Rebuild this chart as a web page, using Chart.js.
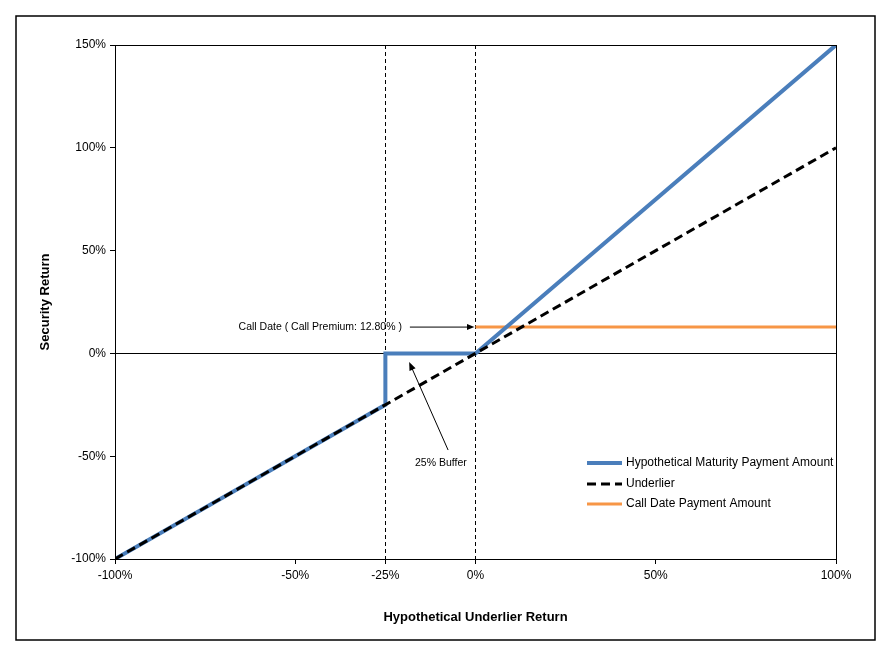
<!DOCTYPE html>
<html>
<head>
<meta charset="utf-8">
<title>Security Return vs Underlier</title>
<script src="https://cdn.jsdelivr.net/npm/chart.js@4/dist/chart.umd.min.js"></script>
<style>
    html, body { margin: 0; padding: 0; background: #fff; }
    #wrap { width: 894px; height: 657px; position: relative; }
</style>
</head>
<body>
<div id="wrap"><canvas id="payoffChart" width="894" height="657"></canvas></div>
<script>
// 数据
const xTicks = [-100, -50, -25, 0, 50, 100];
const maturityX = [-100, -25, -25, 0, 100];
const maturityY = [-100, -25, 0, 0, 150];
const underlierX = [-100, 100];
const underlierY = [-100, 100];
const callX = [0, 100];
const callY = [12.8, 12.8];
const refLines = [-25, 0];

const seriesLabels = ['Hypothetical Maturity Payment Amount', 'Underlier', 'Call Date Payment Amount'];
const callNote = 'Call Date ( Call Premium: 12.80% )';
const bufferNote = '25% Buffer';

const toPoints = (xs, ys) => xs.map((x, i) => ({ x: x, y: ys[i] }));

const baseFont = "Arial, 'Liberation Sans', sans-serif";

// 箭头
function drawArrow(ctx, x1, y1, x2, y2, head) {
    const a = Math.atan2(y2 - y1, x2 - x1);
    ctx.beginPath();
    ctx.moveTo(x1, y1);
    ctx.lineTo(x2 - Math.cos(a) * head * 0.8, y2 - Math.sin(a) * head * 0.8);
    ctx.stroke();
    ctx.beginPath();
    ctx.moveTo(x2, y2);
    ctx.lineTo(x2 - head * Math.cos(a - 0.38), y2 - head * Math.sin(a - 0.38));
    ctx.lineTo(x2 - head * Math.cos(a + 0.38), y2 - head * Math.sin(a + 0.38));
    ctx.closePath();
    ctx.fill();
}

// 边框、注释和图例
const decorPlugin = {
    id: 'decor',
    beforeDraw(chart) {
        const ctx = chart.ctx;
        ctx.save();
        ctx.fillStyle = '#fff';
        ctx.fillRect(0, 0, chart.width, chart.height);
        ctx.restore();
    },
    afterDraw(chart) {
        const ctx = chart.ctx;
        const area = chart.chartArea;
        const xs = chart.scales.x;
        const ys = chart.scales.y;
        ctx.save();

        // 外框
        ctx.strokeStyle = '#000';
        ctx.lineWidth = 1.5;
        ctx.strokeRect(16, 16, 859, 624);

        // 图表区边框
        ctx.lineWidth = 1;
        ctx.strokeRect(area.left + 0.5, area.top + 0.5, area.right - area.left, area.bottom - area.top);

        // 注释
        ctx.fillStyle = '#000';
        ctx.strokeStyle = '#000';
        ctx.lineWidth = 1;
        ctx.font = '10.5px ' + baseFont;
        ctx.textBaseline = 'middle';
        ctx.textAlign = 'right';
        ctx.fillText(callNote, xs.getPixelForValue(-20.4), ys.getPixelForValue(12.8));
        drawArrow(ctx, xs.getPixelForValue(-18.2), ys.getPixelForValue(12.8),
            xs.getPixelForValue(-0.3), ys.getPixelForValue(12.8), 8);

        ctx.textAlign = 'center';
        ctx.fillText(bufferNote, xs.getPixelForValue(-9.6), ys.getPixelForValue(-53.3));
        drawArrow(ctx, xs.getPixelForValue(-7.6), ys.getPixelForValue(-47),
            xs.getPixelForValue(-18.4), ys.getPixelForValue(-4.2), 9);

        // 图例
        const legendX = 587;
        const legendY = [463, 484, 504];
        ctx.font = '12px ' + baseFont;
        ctx.textAlign = 'left';
        seriesLabels.forEach((label, i) => {
            const ds = chart.data.datasets.find(d => d.label === label);
            ctx.save();
            ctx.strokeStyle = ds.borderColor;
            ctx.lineWidth = ds.borderWidth;
            ctx.setLineDash(ds.borderDash || []);
            ctx.beginPath();
            ctx.moveTo(legendX, legendY[i]);
            ctx.lineTo(legendX + 35, legendY[i]);
            ctx.stroke();
            ctx.restore();
            ctx.fillStyle = '#000';
            ctx.fillText(label, legendX + 39, legendY[i]);
        });
        ctx.restore();
    }
};

const ctx = document.getElementById('payoffChart').getContext('2d');
const payoffChart = new Chart(ctx, {
    type: 'line',
    data: {
        datasets: [
            {
                label: seriesLabels[1],
                data: toPoints(underlierX, underlierY),
                borderColor: '#000000',
                borderWidth: 3,
                borderDash: [9, 5],
                pointRadius: 0,
                order: 0
            },
            {
                label: seriesLabels[0],
                data: toPoints(maturityX, maturityY),
                borderColor: '#4A7EBB',
                borderWidth: 4,
                pointRadius: 0,
                order: 1
            },
            {
                label: seriesLabels[2],
                data: toPoints(callX, callY),
                borderColor: '#F79646',
                borderWidth: 3,
                pointRadius: 0,
                order: 2
            }
        ]
    },
    options: {
        responsive: false,
        animation: false,
        layout: {
            padding: { left: 16, top: 45, right: 58, bottom: 17 }
        },
        plugins: {
            legend: { display: false },
            tooltip: { enabled: false }
        },
        scales: {
            x: {
                type: 'linear',
                min: -100,
                max: 100,
                afterBuildTicks: scale => {
                    scale.ticks = xTicks.map(v => ({ value: v }));
                },
                afterFit: scale => { scale.height = 81; },
                grid: {
                    color: c => (c.tick && refLines.includes(c.tick.value) ? '#000' : 'transparent'),
                    tickColor: '#000',
                    tickLength: 5,
                    lineWidth: 1
                },
                border: { display: true, color: '#000', width: 1, dash: [4, 3] },
                ticks: {
                    color: '#000',
                    padding: 4,
                    maxRotation: 0,
                    font: { family: baseFont, size: 12 },
                    callback: v => v + '%'
                },
                title: {
                    display: true,
                    text: 'Hypothetical Underlier Return',
                    color: '#000',
                    font: { family: baseFont, size: 13, weight: 'bold' },
                    padding: { top: 0, bottom: 15 }
                }
            },
            y: {
                min: -100,
                max: 150,
                afterFit: scale => { scale.width = 99; },
                grid: {
                    color: c => (c.tick && c.tick.value === 0 ? '#000' : 'transparent'),
                    tickColor: '#000',
                    tickLength: 5,
                    lineWidth: 1
                },
                border: { display: true, color: '#000', width: 1 },
                ticks: {
                    stepSize: 50,
                    color: '#000',
                    padding: 4,
                    font: { family: baseFont, size: 12 },
                    callback: v => v + '%'
                },
                title: {
                    display: true,
                    text: 'Security Return',
                    color: '#000',
                    font: { family: baseFont, size: 13, weight: 'bold' },
                    padding: { top: 22, bottom: 0 }
                }
            }
        }
    },
    plugins: [decorPlugin]
});
</script>
</body>
</html>
